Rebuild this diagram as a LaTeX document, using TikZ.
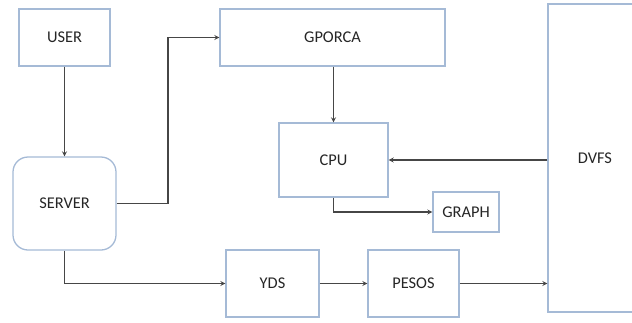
\documentclass[tikz,border=0pt]{standalone}
\usepackage{fontspec}
\setmainfont{Carlito}
\usepackage{xcolor}
\usepackage{tikz}
\usetikzlibrary{arrows}
\definecolor{boxline}{RGB}{165,186,214}
\definecolor{wire}{RGB}{70,70,70}
\tikzstyle{block}  = [rectangle, draw=boxline, line width=1.1pt, fill=white, text centered, font=\fontsize{14}{16}\selectfont, text=black!85]
\tikzstyle{rblock} = [block, rounded corners=0.45cm]
\tikzstyle{arrow}  = [draw=wire, line width=0.9pt, ->, >=stealth]

\begin{document}
\begin{tikzpicture}[x=0.03cm, y=-0.03cm]
    \useasboundingbox (0,0) rectangle (632,322);
    \node (user)   [block,  minimum width=2.73cm, minimum height=1.71cm] at (64.5,37.5)  {USER};
    \node (gporca) [block,  minimum width=6.75cm, minimum height=1.71cm] at (332.5,37.5) {GPORCA};
    \node (server) [rblock, minimum width=3.09cm, minimum height=2.79cm] at (64.5,203.5) {SERVER};
    \node (cpu)    [block,  minimum width=3.27cm, minimum height=2.22cm] at (333.5,160)  {CPU};
    \node (graph)  [block,  minimum width=1.98cm, minimum height=1.2cm]  at (466,212)    {GRAPH};
    \node (yds)    [block,  minimum width=2.79cm, minimum height=2.01cm] at (272.5,283.5) {YDS};
    \node (pesos)  [block,  minimum width=2.73cm, minimum height=2.01cm] at (413.5,283.5) {PESOS};
    \node (dvfs)   [block,  minimum width=2.82cm, minimum height=9.24cm] at (595,158)    {DVFS};
    \coordinate (bend) at (168,0);

    \draw [arrow] (user) -- (server);
    \draw [arrow] (server.east) -| (bend |- gporca.west) -- (gporca.west);
    \draw [arrow] (server.south) |- (yds.west);
    \draw [arrow] (yds) -- (pesos);
    \draw [arrow] (pesos.east) -- (pesos.east -| dvfs.west);
    \draw [arrow] (gporca.south -| cpu.north) -- (cpu.north);
    \draw [arrow] (cpu.east -| dvfs.west) -- (cpu.east);
    \draw [arrow] (cpu.south) |- (graph.west);
\end{tikzpicture}
\end{document}
